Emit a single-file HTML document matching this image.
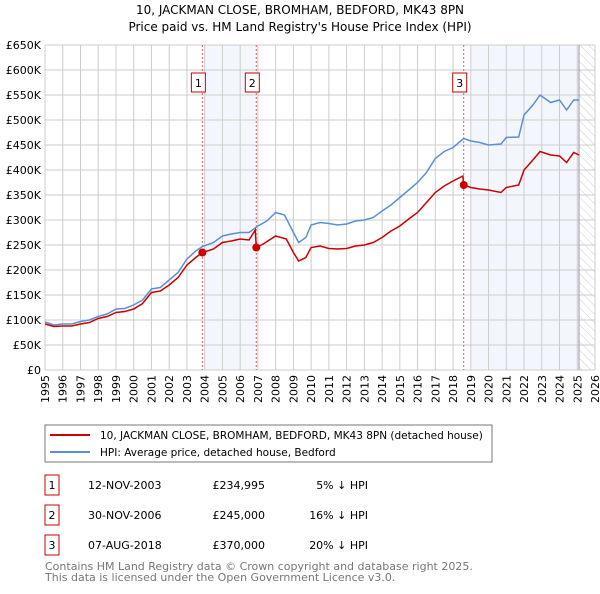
<!DOCTYPE html>
<html><head><meta charset="utf-8"><style>
body{margin:0;background:#fff;font-family:"DejaVu Sans","Liberation Sans",sans-serif;}
svg text{font-family:"DejaVu Sans","Liberation Sans",sans-serif;}
</style></head><body>
<svg id="c" width="600" height="590" xmlns="http://www.w3.org/2000/svg">
<defs><pattern id="hatch" width="6" height="6" patternUnits="userSpaceOnUse" patternTransform="rotate(-45)"><line x1="0" y1="0" x2="0" y2="6" stroke="#ccc" stroke-width="1"/></pattern></defs>
<text x="300" y="14" text-anchor="middle" font-size="12">10, JACKMAN CLOSE, BROMHAM, BEDFORD, MK43 8PN</text>
<text x="300" y="31" text-anchor="middle" font-size="12">Price paid vs. HM Land Registry's House Price Index (HPI)</text>
<g id="plot"></g>
<rect x="45" y="425" width="447" height="37" fill="#fff" stroke="#777"/>
<line x1="50" y1="435" x2="90" y2="435" stroke="#cc0000" stroke-width="2"/>
<text x="100" y="439" font-size="10.5">10, JACKMAN CLOSE, BROMHAM, BEDFORD, MK43 8PN (detached house)</text>
<line x1="50" y1="452" x2="90" y2="452" stroke="#5b8fd4" stroke-width="2"/>
<text x="100" y="456" font-size="10.5">HPI: Average price, detached house, Bedford</text>
<g id="table" font-size="11"></g>
<text x="45" y="570" font-size="11" fill="#777">Contains HM Land Registry data © Crown copyright and database right 2025.</text>
<text x="45" y="581" font-size="11" fill="#777">This data is licensed under the Open Government Licence v3.0.</text>
</svg>
<script>
const hpiYears=[1995,1995.5,1996,1996.5,1997,1997.5,1998,1998.5,1999,1999.5,2000,2000.5,2001,2001.5,2002,2002.5,2003,2003.5,2003.87,2004.5,2005,2005.5,2006,2006.5,2007,2007.5,2008,2008.5,2009,2009.3,2009.7,2010,2010.5,2011,2011.5,2012,2012.5,2013,2013.5,2014,2014.5,2015,2015.5,2016,2016.5,2017,2017.5,2018,2018.6,2019,2019.5,2020,2020.7,2021,2021.7,2022,2022.5,2022.9,2023.5,2024,2024.4,2024.8,2025.1];
const hpiVals=[96,90,92,92,97,100,107,112,122,123,130,140,162,165,180,195,222,238,247,255,268,272,275,275,288,298,315,310,275,255,265,290,295,293,290,292,298,300,305,318,330,345,360,375,395,423,437,445,463,458,455,450,452,465,466,510,530,550,535,540,520,540,540];
const redYears=[1995,1995.5,1996,1996.5,1997,1997.5,1998,1998.5,1999,1999.5,2000,2000.5,2001,2001.5,2002,2002.5,2003,2003.5,2003.87,2004.5,2005,2005.5,2006,2006.5,2006.85,2006.91,2007.3,2008,2008.6,2009,2009.3,2009.7,2010,2010.5,2011,2011.5,2012,2012.5,2013,2013.5,2014,2014.5,2015,2015.5,2016,2016.5,2017,2017.5,2018,2018.55,2018.6,2019,2019.5,2020,2020.7,2021,2021.7,2022,2022.5,2022.9,2023.5,2024,2024.4,2024.8,2025.1];
const redVals=[92,87,88,88,92,95,103,107,115,117,122,133,155,158,170,185,210,225,235,242,255,258,262,260,280,245,252,268,262,235,218,225,245,248,243,242,243,248,250,255,265,278,288,302,315,335,355,368,378,388,370,365,362,360,355,365,370,400,420,437,430,428,415,435,430];
const saleYears=[2003.87,2006.91,2018.6];
const salePrices=[234995,245000,370000];
const yTicks=[0,50,100,150,200,250,300,350,400,450,500,550,600,650];
const xTicks=[1995,1996,1997,1998,1999,2000,2001,2002,2003,2004,2005,2006,2007,2008,2009,2010,2011,2012,2013,2014,2015,2016,2017,2018,2019,2020,2021,2022,2023,2024,2025,2026];
const saleDates=["12-NOV-2003","30-NOV-2006","07-AUG-2018"];
const saleLabels=["£234,995","£245,000","£370,000"];
const saleDiffs=["5% ↓ HPI","16% ↓ HPI","20% ↓ HPI"];

const NS="http://www.w3.org/2000/svg";
const X0=45,X1=595,Y0=370,Y1=45;
const xs=y=>X0+(y-1995)/(2026-1995)*(X1-X0);
const ys=v=>Y0-v/650*(Y0-Y1);
function mk(tag,attrs,parent){const e=document.createElementNS(NS,tag);for(const k in attrs)e.setAttribute(k,attrs[k]);parent.appendChild(e);return e;}
const g=document.getElementById('plot');
let s1=mk('rect',{x:xs(2004),y:Y1,width:xs(saleYears[1])-xs(2004),height:Y0-Y1,fill:'#eef3fc',opacity:0.7},g);


let s2=mk('rect',{x:xs(2019),y:Y1,width:xs(2025.1)-xs(2019),height:Y0-Y1,fill:'#eef3fc',opacity:0.7},g);


let ht=mk('rect',{x:xs(2025.1),y:Y1,width:X1-xs(2025.1),height:Y0-Y1,fill:'url(#hatch)'},g);


yTicks.forEach(t=>{
 let l=mk('line',{x1:X0,x2:X1,y1:ys(t),y2:ys(t),stroke:'#ccc'},g);
 
 
 let tx=mk('text',{x:X0-4,y:ys(t)+4,'text-anchor':'end','font-size':11},g);
 tx.textContent=t===0?'£0':'£'+t+'K';
 
 
});
xTicks.forEach(t=>{
 let l=mk('line',{x1:xs(t),x2:xs(t),y1:Y1,y2:Y0,stroke:'#ccc'},g);
 
 
 let tx=mk('text',{x:0,y:0,'text-anchor':'end','font-size':11,transform:`translate(${xs(t)+4},${Y0+5}) rotate(-90)`},g);
 tx.textContent=t;
 
 
});
let el=mk('line',{x1:xs(2025.1),x2:xs(2025.1),y1:Y1,y2:Y0,stroke:'#999'},g);


saleYears.forEach((y,i)=>{
 let d=mk('line',{x1:xs(y),x2:xs(y),y1:Y1,y2:Y0,stroke:'#e06060','stroke-dasharray':'2,2'},g);
 
 
 let b=mk('rect',{x:xs(y)-11,y:73,width:14,height:19,fill:'#fff',stroke:'#cc0000'},g);
 
 
 let t=mk('text',{x:xs(y)-4,y:87,'text-anchor':'middle','font-size':11},g);
 t.textContent=String(i+1);
 
 
});
let hp=mk('polyline',{points:hpiYears.map((y,i)=>xs(y)+','+ys(hpiVals[i])).join(' '),fill:'none',stroke:'#5b8fd4','stroke-width':1.5},g);


let rp=mk('polyline',{points:redYears.map((y,i)=>xs(y)+','+ys(redVals[i])).join(' '),fill:'none',stroke:'#cc0000','stroke-width':1.5},g);


saleYears.forEach((y,i)=>{
 let c=mk('circle',{cx:xs(y),cy:ys(salePrices[i]/1000),r:4,fill:'#cc0000'},g);
 
 
});
const tb=document.getElementById('table');
saleDates.forEach((d,i)=>{
 const cy=485+i*30;
 let b=mk('rect',{x:45,y:cy-10,width:14,height:20,fill:'#fff',stroke:'#cc0000'},tb);
 
 
 const cells=[[52,String(i+1),'middle'],[88,d,'start'],[265,saleLabels[i],'end'],[368,saleDiffs[i],'end']];
 cells.forEach(c=>{
  let t=mk('text',{x:c[0],y:cy+4,'text-anchor':c[2]},tb);
  t.textContent=c[1];
  
  
 });
});
</script>
</body></html>
